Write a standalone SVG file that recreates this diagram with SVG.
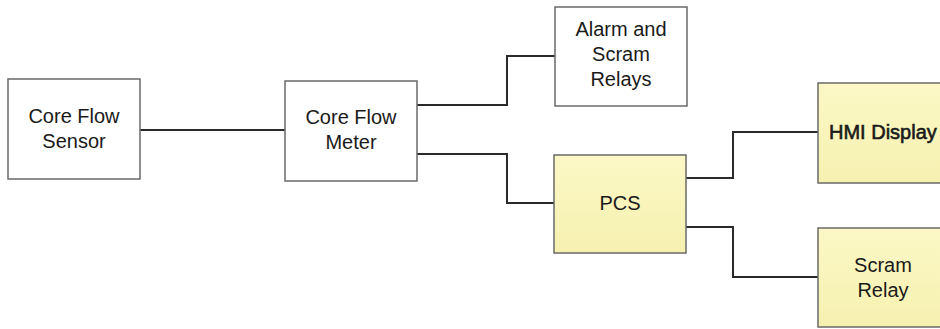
<svg xmlns="http://www.w3.org/2000/svg" width="940" height="329" viewBox="0 0 940 329">
<defs>
<linearGradient id="yel" x1="0" y1="0" x2="0" y2="1">
<stop offset="0" stop-color="#fbf8c6"/>
<stop offset="1" stop-color="#f6f1b0"/>
</linearGradient>
</defs>
<style>
.box{fill:#ffffff;stroke:#6a6a6a;stroke-width:1.5}
.ybox{fill:url(#yel);stroke:#6a6a6a;stroke-width:1.5}
.t{font-family:"Liberation Sans",Arial,sans-serif;font-size:20px;fill:#1a1a1a;text-anchor:middle}
.b{stroke:#1a1a1a;stroke-width:0.6}
.c{fill:none;stroke:#2a2a2a;stroke-width:2}
</style>
<rect width="940" height="329" fill="#ffffff"/>
<g id="connectors">
<path class="c" d="M140,130 H285"/>
<path class="c" d="M417,105 H507 V56 H555"/>
<path class="c" d="M417,154 H507 V203 H554"/>
<path class="c" d="M686,178 H733 V132 H818"/>
<path class="c" d="M686,227 H733 V277 H818"/>
</g>
<g id="sensor">
<rect class="box" x="8" y="79" width="132" height="100"/>
<text class="t" x="74" y="123">Core Flow</text>
<text class="t" x="74" y="148">Sensor</text>
</g>
<g id="meter">
<rect class="box" x="285" y="81" width="132" height="100"/>
<text class="t" x="351" y="124">Core Flow</text>
<text class="t" x="351" y="149">Meter</text>
</g>
<g id="alarm">
<rect class="box" x="555" y="7" width="132" height="99"/>
<text class="t" x="621" y="36">Alarm and</text>
<text class="t" x="621" y="61">Scram</text>
<text class="t" x="621" y="86">Relays</text>
</g>
<g id="pcs">
<rect class="ybox" x="554" y="155" width="132" height="98"/>
<text class="t" x="620" y="210">PCS</text>
</g>
<g id="hmi">
<rect class="ybox" x="818" y="83" width="132" height="100"/>
<text class="t b" x="829" y="139" style="text-anchor:start">HMI Display</text>
</g>
<g id="scram">
<rect class="ybox" x="818" y="228" width="132" height="99"/>
<text class="t" x="883" y="272">Scram</text>
<text class="t" x="883" y="297">Relay</text>
</g>
</svg>
